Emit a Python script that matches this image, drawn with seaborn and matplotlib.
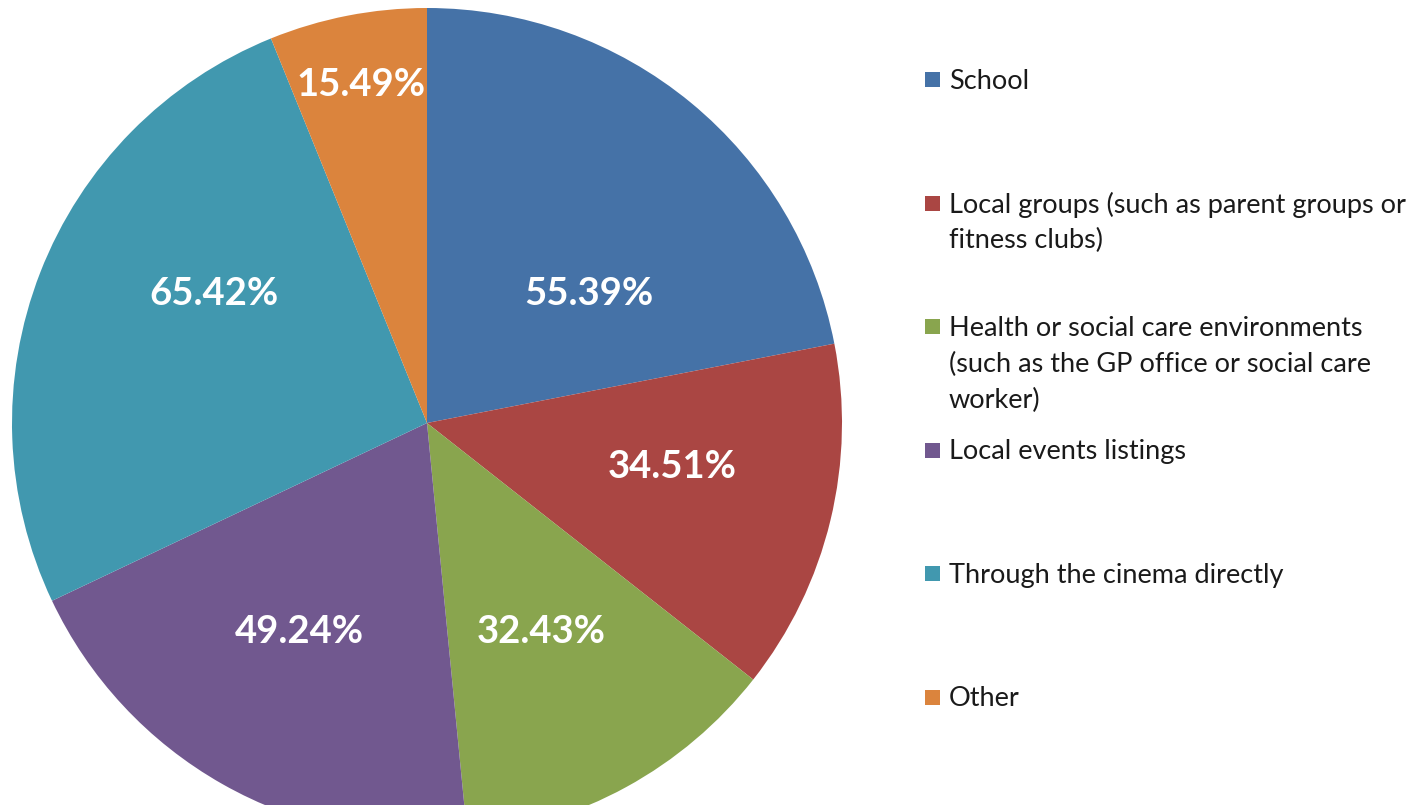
import numpy as np
import matplotlib
matplotlib.use("Agg")
import matplotlib.pyplot as plt
import seaborn as sns

sns.set_theme(style="white")
plt.rcParams['font.family'] = ['Lato', 'DejaVu Sans']

categories = [
    "School",
    "Local groups (such as parent groups or\nfitness clubs)",
    "Health or social care environments\n(such as the GP office or social care\nworker)",
    "Local events listings",
    "Through the cinema directly",
    "Other",
]
values = [55.39, 34.51, 32.43, 49.24, 65.42, 15.49]
colors = ["#4572A7", "#AA4643", "#89A54E", "#71588F", "#4198AF", "#DB843D"]

# label placement tweaks (style only): radial distance and angle offset (deg)
label_r = [0.50, 0.60, 0.574, 0.59, 0.60, 0.83]
label_dang = [-12, 3.4, 0, -2, -10, 0]

W, H = 1410, 805
fig = plt.figure(figsize=(W / 100, H / 100), dpi=100)
fig.patch.set_facecolor("white")

cx, cy, R = 427, 423, 415
ax = fig.add_axes([(cx - R) / W, (H - cy - R) / H, 2 * R / W, 2 * R / H])
wedges, _ = ax.pie(values, colors=colors, startangle=90, counterclock=False,
                   radius=1, wedgeprops=dict(linewidth=0))
ax.set_xlim(-1, 1)
ax.set_ylim(-1, 1)
ax.set_aspect('auto')
ax.axis('off')

for w, v, r, da in zip(wedges, values, label_r, label_dang):
    th = np.deg2rad((w.theta1 + w.theta2) / 2 + da)
    ax.text(r * np.cos(th), r * np.sin(th), f"{v:.2f}%", color="white",
            fontsize=27.5, fontweight="bold", ha="center", va="center")

# legend
first_y, step, line_h = 81.5, 123.4, 36
sq = 15
for i, (lab, col) in enumerate(zip(categories, colors)):
    yc = first_y + i * step
    fig.patches.append(plt.Rectangle(((925) / W, (H - (yc - 1.5) - sq / 2) / H), sq / W, sq / H,
                                     transform=fig.transFigure, facecolor=col,
                                     edgecolor="none", figure=fig))
    for k, line in enumerate(lab.split("\n")):
        fig.text(949 / W, (H - (yc + k * line_h)) / H, line, fontsize=19.5,
                 color="#1a1a1a", ha="left", va="center")

fig.savefig("out.png", dpi=100, facecolor="white")
